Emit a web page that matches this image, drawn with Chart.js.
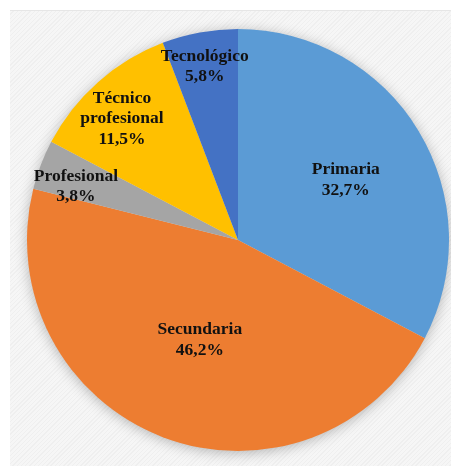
<!DOCTYPE html>
<html>
<head>
<meta charset="utf-8">
<script src="https://cdn.jsdelivr.net/npm/chart.js@4.4.1/dist/chart.umd.min.js"></script>
<style>
  html, body { margin: 0; padding: 0; background: #fff; }
  #wrap { position: relative; width: 451px; height: 466px; }
  #frame {
    position: absolute; left: 10px; top: 10px; right: 0; bottom: 0;
    border-top: 1px solid #e6e6e6;
    background: repeating-linear-gradient(135deg, #f6f6f6 0px, #f6f6f6 2px, #efefef 2px, #efefef 3px);
  }
  canvas { position: absolute; left: 0; top: 0; }
</style>
</head>
<body>
<div id="wrap">
  <div id="frame"></div>
  <canvas id="pie-chart" width="451" height="466"></canvas>
</div>
<script>
// data
var categories = ["Primaria", "Secundaria", "Profesional", "Técnico profesional", "Tecnológico"];
var percentages = [32.7, 46.2, 3.8, 11.5, 5.8];
var labelLines = [["Primaria"], ["Secundaria"], ["Profesional"], ["Técnico", "profesional"], ["Tecnológico"]];
var sliceColors = ["#5B9BD5", "#ED7D31", "#A5A5A5", "#FFC000", "#4472C4"];

// label placement: fraction of radius and angle nudge (degrees) from slice middle
var labelRadius = [0.585, 0.507, 0.809, 0.796, 0.837];
var labelTurn = [2.0, 0, -2.6, -2.1, -0.4];

var shadowPlugin = {
  id: 'pieShadow',
  beforeDatasetsDraw: function (chart) {
    var arc = chart.getDatasetMeta(0).data[0];
    var ctx = chart.ctx;
    ctx.save();
    ctx.shadowColor = 'rgba(0,0,0,0.3)';
    ctx.shadowBlur = 14;
    ctx.shadowOffsetX = 0;
    ctx.shadowOffsetY = 2;
    ctx.fillStyle = '#ddd';
    ctx.beginPath();
    ctx.arc(arc.x, arc.y, arc.outerRadius - 1, 0, Math.PI * 2);
    ctx.fill();
    ctx.restore();
  }
};

var labelPlugin = {
  id: 'sliceLabels',
  afterDatasetsDraw: function (chart) {
    var ctx = chart.ctx;
    var meta = chart.getDatasetMeta(0);
    ctx.save();
    ctx.font = 'bold 17.5px "Liberation Serif", "Times New Roman", serif';
    ctx.fillStyle = '#111';
    ctx.textAlign = 'center';
    ctx.textBaseline = 'middle';
    meta.data.forEach(function (arc, i) {
      var mid = (arc.startAngle + arc.endAngle) / 2 + labelTurn[i] * Math.PI / 180;
      var r = arc.outerRadius * labelRadius[i];
      var cx = arc.x + Math.cos(mid) * r;
      var cy = arc.y + Math.sin(mid) * r;
      var lines = labelLines[i].concat([percentages[i].toFixed(1).replace('.', ',') + '%']);
      var lh = 20.5;
      var y0 = cy - (lines.length - 1) * lh / 2;
      lines.forEach(function (t, k) {
        ctx.fillText(t, cx, y0 + k * lh);
      });
    });
    ctx.restore();
  }
};

new Chart(document.getElementById("pie-chart"), {
  type: 'pie',
  data: {
    labels: categories,
    datasets: [{
      data: percentages,
      backgroundColor: sliceColors,
      borderWidth: 0
    }]
  },
  options: {
    responsive: false,
    animation: false,
    layout: { padding: { left: 27, right: 2, top: 29, bottom: 15 } },
    plugins: {
      legend: { display: false },
      tooltip: { enabled: false }
    }
  },
  plugins: [shadowPlugin, labelPlugin]
});
</script>
</body>
</html>
